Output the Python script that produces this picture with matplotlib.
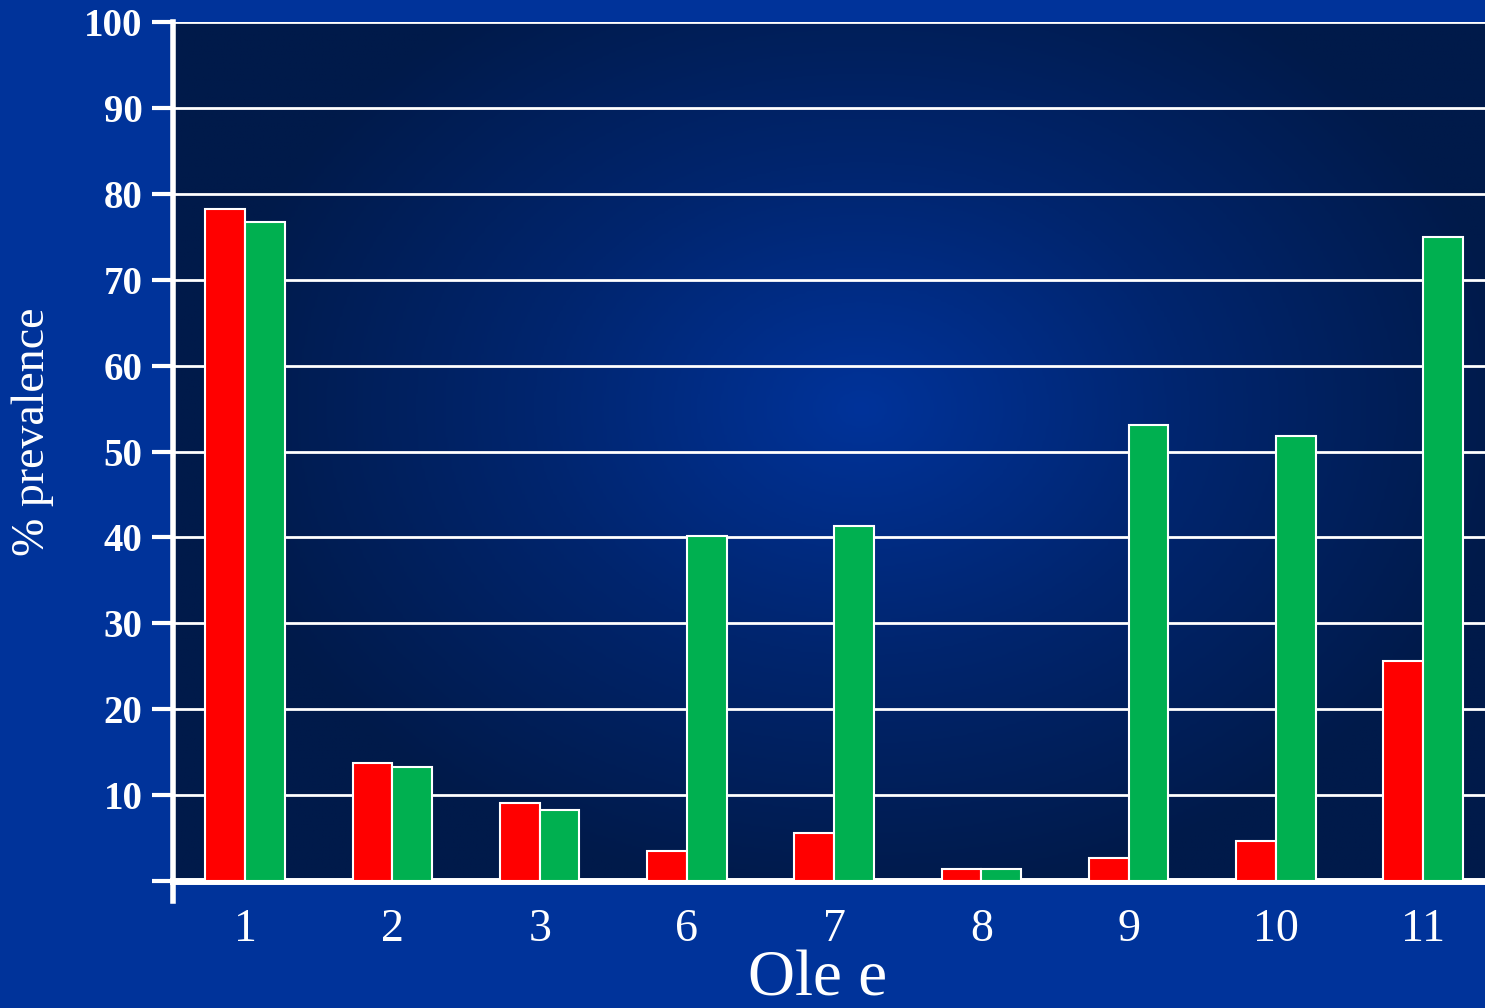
import numpy as np
import matplotlib
matplotlib.use("Agg")
import matplotlib.pyplot as plt
from matplotlib.colors import LinearSegmentedColormap

categories = ["1", "2", "3", "6", "7", "8", "9", "10", "11"]
red_vals = [78.2, 13.7, 9.1, 3.5, 5.6, 1.4, 2.7, 4.7, 25.6]
green_vals = [76.7, 13.3, 8.3, 40.2, 41.3, 1.4, 53.1, 51.8, 75.0]
y_ticks = [10, 20, 30, 40, 50, 60, 70, 80, 90, 100]

plt.rcParams['font.family'] = ['Liberation Serif', 'DejaVu Serif']

fig = plt.figure(figsize=(14.85, 10.08), dpi=100)
fig.patch.set_facecolor('#00339a')

# axes box in pixels: left 173, right 1485, y0 at 881, y100 at 22
W, H = 1485, 1008
ax = fig.add_axes([173 / W, 1 - 881 / H, (1485 - 173) / W, (881 - 22) / H])

x = np.arange(len(categories))
bw = 0.27
xlim = (-0.49, 8.42)
ax.set_xlim(*xlim)
ax.set_ylim(0, 100)

# radial gradient background inside the plot
gx, gy = np.meshgrid(np.linspace(-1, 1, 400), np.linspace(-1, 1, 300))
r = np.sqrt(((gx - 0.05) / 1.0) ** 2 + ((gy - 0.1) / 1.15) ** 2)
r = np.clip(r, 0, 1)
cmap = LinearSegmentedColormap.from_list("bg", ["#00339a", "#00256e", "#001a4a"])
ax.imshow(r, cmap=cmap, extent=[xlim[0], xlim[1], 0, 100], aspect='auto',
          origin='lower', zorder=0, vmin=0, vmax=1)

ax.bar(x - bw / 2, red_vals, bw, color='#ff0000', edgecolor='white', linewidth=1.5, zorder=3)
ax.bar(x + bw / 2, green_vals, bw, color='#00b050', edgecolor='white', linewidth=1.5, zorder=3)

for v in y_ticks:
    ax.axhline(v, color='white', lw=2, zorder=2)

for s in ['top', 'right']:
    ax.spines[s].set_visible(False)
ax.spines['left'].set_color('white')
ax.spines['left'].set_linewidth(4)
ax.spines['left'].set_bounds(-2.3, 100)
ax.spines['bottom'].set_color('white')
ax.spines['bottom'].set_linewidth(5)

ax.set_yticks([0] + y_ticks)
ax.set_yticklabels([""] + [str(v) for v in y_ticks], fontsize=28, fontweight='bold', color='white')
ax.tick_params(axis='y', length=15, width=3, color='white', pad=7)
ax.set_xticks(x)
ax.set_xticklabels(categories, fontsize=33, color='white')
ax.tick_params(axis='x', length=0, pad=20)

fig.text(33 / W, 1 - 432 / H, "% prevalence", fontsize=33, color='white',
         rotation=90, ha='center', va='center')
fig.text(818 / W, 1 - 996 / H, "Ole e", fontsize=47, color='white',
         ha='center', va='baseline')

fig.savefig("out.png", dpi=100, facecolor=fig.get_facecolor())
